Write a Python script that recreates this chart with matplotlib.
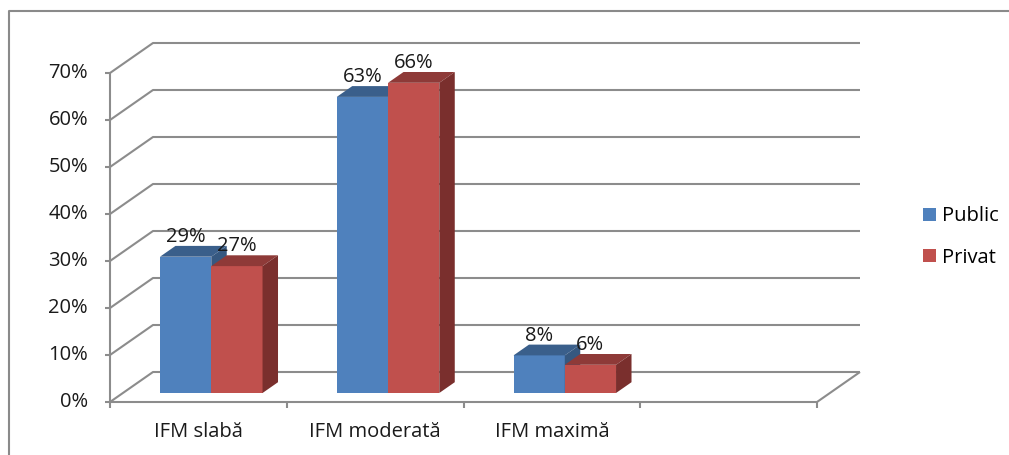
import matplotlib
matplotlib.use("Agg")
import matplotlib.pyplot as plt
from matplotlib.patches import Polygon, Patch
from matplotlib.lines import Line2D

plt.rcParams['font.family'] = ['Open Sans', 'DejaVu Sans']

# ---- data ----
categories = ["IFM slabă", "IFM moderată", "IFM maximă"]
series_names = ["Public", "Privat"]
public_vals = [29, 63, 8]
privat_vals = [27, 66, 6]
y_ticks = [0, 10, 20, 30, 40, 50, 60, 70]
y_tick_labels = [f"{t}%" for t in y_ticks]

# ---- styling ----
n_slots = 4                      # floor is drawn one slot wider than the data
front_colors = ["#4F81BD", "#C0504D"]
top_colors = ["#3A5F8B", "#8E3A38"]
side_colors = ["#365880", "#7A2F2D"]
grid_color = "#8C8C8C"
text_color = "#1a1a1a"
FS = 14.5
DX, DY = 43.0, 30.0              # pixel offset of the back wall relative to the front plane
bar_d0, bar_d1 = 0.30, 0.66      # depth range occupied by the bars
bar_w = 0.29

DPI = 100
fig = plt.figure(figsize=(1009 / DPI, 455 / DPI), dpi=DPI)
ax = fig.add_axes([110 / 1009, 53 / 455, 707 / 1009, 329 / 455])
ax.set_xlim(0, n_slots)
ax.set_ylim(0, 70)
ax.axis('off')

to_fig = fig.transFigure.inverted()


def P(x, v, d=0.0, px=0.0, py=0.0):
    """Project (category x, value v, depth d) to figure-fraction coordinates."""
    X, Y = ax.transData.transform((x, v))
    return tuple(to_fig.transform((X + d * DX + px, Y + d * DY + py)))


def line(pts, lw=1.5, color=grid_color, z=1):
    xs = [p[0] for p in pts]
    ys = [p[1] for p in pts]
    fig.add_artist(Line2D(xs, ys, transform=fig.transFigure, color=color,
                          lw=lw, zorder=z, solid_capstyle='butt'))


def face(pts, color, z=3):
    fig.add_artist(Polygon(pts, closed=True, transform=fig.transFigure,
                           facecolor=color, edgecolor='none', zorder=z))


# outer chart border
line([(9 / 1009, 0), (9 / 1009, 1 - 11 / 455), (1, 1 - 11 / 455)],
     lw=1.5, color="#8A8A8A")

# side wall diagonals and back wall gridlines
for v in y_ticks:
    line([P(0, v, 0), P(0, v, 1), P(n_slots, v, 1)])

# floor front edge and right edge
line([P(0, 0, 0), P(n_slots, 0, 0), P(n_slots, 0, 1)])

# value axis and its ticks
line([P(0, 0, 0), P(0, 70, 0)])
for v, lab in zip(y_ticks, y_tick_labels):
    line([P(0, v, 0, px=-5), P(0, v, 0)])
    fx, fy = P(0, v, 0, px=-22)
    fig.text(fx, fy, lab, ha='right', va='center', fontsize=FS, color=text_color)

# category ticks and labels
for i in range(n_slots + 1):
    line([P(i, 0, 0), P(i, 0, 0, py=-6)])
for i, cat in enumerate(categories):
    fx, fy = P(i + 0.5, 0, 0, py=-30)
    fig.text(fx, fy, cat, ha='center', va='center', fontsize=FS, color=text_color)

# bars, drawn left to right so the right bar hides the left bar's side
for i in range(len(categories)):
    for s, vals in enumerate([public_vals, privat_vals]):
        v = vals[i]
        x0 = i + 0.5 - bar_w + s * bar_w
        x1 = x0 + bar_w
        z = 3 + 2 * i + s * 0.5
        # front face
        face([P(x0, 0, bar_d0), P(x1, 0, bar_d0), P(x1, v, bar_d0), P(x0, v, bar_d0)],
             front_colors[s], z=z)
        # top face
        face([P(x0, v, bar_d0), P(x1, v, bar_d0), P(x1, v, bar_d1), P(x0, v, bar_d1)],
             top_colors[s], z=z)
        # right side face
        face([P(x1, 0, bar_d0), P(x1, 0, bar_d1), P(x1, v, bar_d1), P(x1, v, bar_d0)],
             side_colors[s], z=z)
        # value label above the bar
        fx, fy = P((x0 + x1) / 2, v, 0, px=bar_d0 * DX, py=bar_d1 * DY - 1)
        fig.text(fx, fy, f"{v}%", ha='center', va='bottom', fontsize=FS,
                 color=text_color, zorder=10)

# legend
handles = [Patch(facecolor=c, edgecolor='none', label=n)
           for c, n in zip(front_colors, series_names)]
fig.legend(handles=handles, loc='center left', bbox_to_anchor=(915 / 1009, 1 - 237 / 455),
           frameon=False, fontsize=FS, handlelength=0.65, handleheight=0.65,
           handletextpad=0.3, labelspacing=1.05, borderaxespad=0)

fig.savefig("out.png", dpi=DPI)
